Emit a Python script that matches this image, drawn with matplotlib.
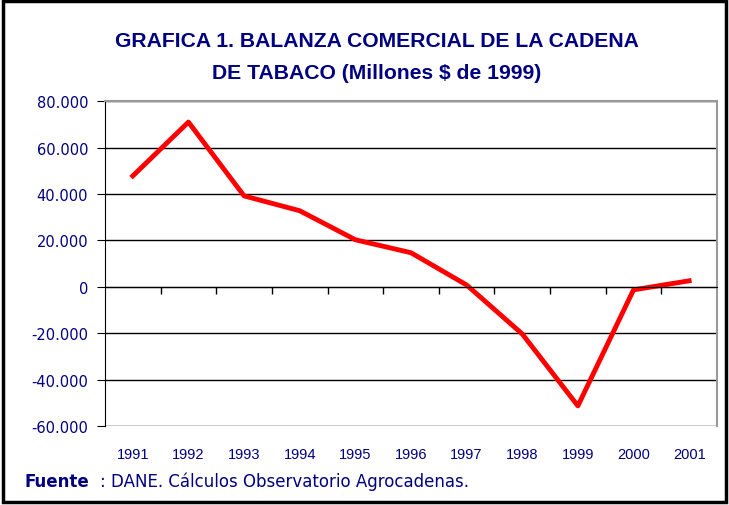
import matplotlib.pyplot as plt
from matplotlib.patches import Rectangle
from matplotlib.ticker import FuncFormatter

years = ['1991', '1992', '1993', '1994', '1995', '1996', '1997', '1998', '1999', '2000', '2001']
balanza = [47800, 71000, 39200, 32800, 20300, 14700, 800, -20300, -51300, -1300, 2600]

navy = '#000080'

fig = plt.figure(figsize=(7.29, 5.06), dpi=100)
fig.patches.append(Rectangle((0.004, 0.006), 0.992, 0.99, transform=fig.transFigure,
                             fill=False, edgecolor='black', linewidth=2.5))

ax = fig.add_axes([0.144, 0.156, 0.8395, 0.642])
x = list(range(len(years)))
ax.plot(x, balanza, color='red', linewidth=3.5)

ax.set_xlim(-0.5, len(years) - 0.5)
ax.set_ylim(-60000, 80000)
ax.set_yticks(range(-60000, 80001, 20000))
ax.yaxis.set_major_formatter(FuncFormatter(lambda v, p: f'{int(v):,}'.replace(',', '.')))
ax.grid(axis='y', color='black', linewidth=1)
ax.set_axisbelow(True)

# x axis on the zero line, ticks between categories
ax.spines['bottom'].set_position(('data', 0))
ax.spines['bottom'].set_color('black')
ax.set_xticks([i + 0.5 for i in x[:-1]])
ax.set_xticklabels([])
ax.tick_params(axis='x', direction='out', length=5, width=1)
for i, yr in enumerate(years):
    ax.text(i, -0.085, yr, transform=ax.get_xaxis_transform(), ha='center', va='center',
            fontsize=10.5, color=navy, family=['Liberation Sans', 'DejaVu Sans'])

for s in ['top', 'right']:
    ax.spines[s].set_color('#999999')
    ax.spines[s].set_linewidth(1.5)
ax.spines['left'].set_color('black')
ax.tick_params(axis='y', direction='out', length=6, pad=6, labelcolor=navy, labelsize=10.5)
for lbl in ax.get_yticklabels():
    lbl.set_family(['DejaVu Sans'])

title_font = ['Liberation Sans', 'DejaVu Sans']
fig.text(0.517, 0.918, 'GRAFICA 1. BALANZA COMERCIAL DE LA CADENA', ha='center', va='center',
         fontsize=15.2, fontweight='bold', color=navy, family=title_font)
fig.text(0.517, 0.854, 'DE TABACO (Millones $ de 1999)', ha='center', va='center',
         fontsize=15.2, fontweight='bold', color=navy, family=title_font)

fig.text(0.033, 0.047, 'Fuente', ha='left', va='center', fontsize=12, fontweight='bold',
         color=navy, family=['DejaVu Sans'])
fig.text(0.137, 0.047, ': DANE. Cálculos Observatorio Agrocadenas.', ha='left', va='center',
         fontsize=12, color=navy, family=['DejaVu Sans'])

fig.savefig('out.png', dpi=100)
